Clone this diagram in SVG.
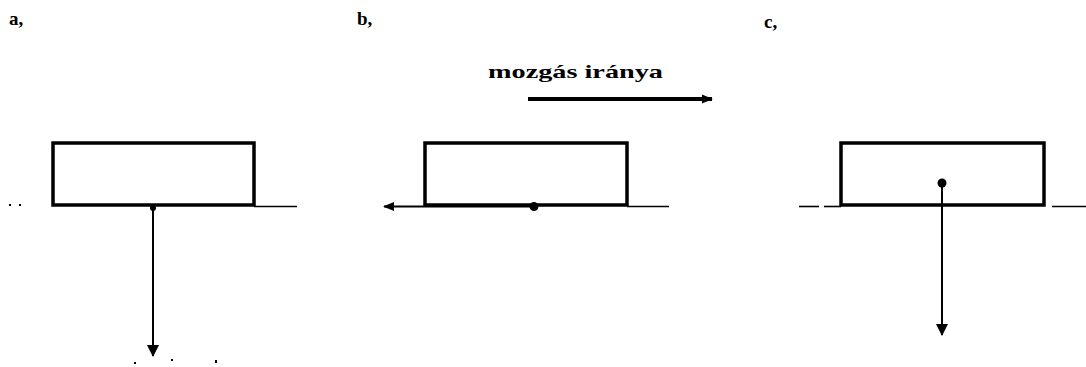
<svg xmlns="http://www.w3.org/2000/svg" width="1086" height="367" viewBox="0 0 1086 367">
<defs>
<style>
.lbl{font-family:'Liberation Serif','DejaVu Serif','Times New Roman',serif;font-weight:bold;fill:#000}
.box{fill:#fff;stroke:#000;stroke-width:3.5}
.ground{stroke:#000;stroke-width:1.6;fill:none}
.force{stroke:#000;stroke-width:2;fill:none}
.dot{fill:#000}
</style>
<marker id="ah" markerWidth="12" markerHeight="12" viewBox="0 0 12 12" refX="11" refY="6" orient="auto" markerUnits="userSpaceOnUse">
<path d="M0,0 L12,6 L0,12 z" fill="#000"/>
</marker>
<marker id="ahs" markerWidth="11" markerHeight="11" viewBox="0 0 12 12" refX="11" refY="6" orient="auto" markerUnits="userSpaceOnUse">
<path d="M0,1 L12,6 L0,11 z" fill="#000"/>
</marker>
</defs>
<rect width="1086" height="367" fill="#fff"/>

<g id="panel-a">
<text class="lbl" x="9" y="25" font-size="19">a,</text>
<g id="node-a">
<rect class="box" x="53" y="143" width="201" height="62"/>
</g>
<line class="ground" x1="254" y1="206.5" x2="297" y2="206.5"/>
<rect class="dot" x="9" y="204" width="2" height="2"/>
<rect class="dot" x="19" y="204" width="2" height="2"/>
<rect class="dot" x="134" y="362" width="2" height="2"/>
<rect class="dot" x="171" y="359" width="2" height="2"/>
<rect class="dot" x="215" y="360" width="2" height="3"/>
</g>

<g id="panel-b">
<text class="lbl" x="357" y="25" font-size="19">b,</text>
<text class="lbl" x="488" y="78" font-size="19" textLength="175" lengthAdjust="spacingAndGlyphs">mozgás iránya</text>
<g id="node-b">
<rect class="box" x="425" y="143" width="202" height="62"/>
</g>
<line class="ground" x1="627" y1="206.5" x2="669" y2="206.5"/>
</g>

<g id="panel-c">
<text class="lbl" x="764" y="28" font-size="19">c,</text>
<g id="node-c">
<rect class="box" x="841" y="143" width="203" height="62"/>
</g>
<line class="ground" x1="799" y1="206.5" x2="819" y2="206.5"/>
<line class="ground" x1="824" y1="206.5" x2="841" y2="206.5"/>
<line class="ground" x1="1052" y1="206.5" x2="1086" y2="206.5"/>
</g>

<g id="connectors">
<circle class="dot" cx="153" cy="208" r="3"/>
<line class="force" x1="153" y1="208" x2="153" y2="356" marker-end="url(#ah)"/>
<line class="force" x1="534" y1="206.5" x2="384" y2="206.5" marker-end="url(#ahs)"/>
<circle class="dot" cx="534" cy="206.5" r="4.5"/>
<line x1="528" y1="99" x2="712" y2="99" stroke="#000" stroke-width="4" marker-end="url(#ahs)"/>
<circle class="dot" cx="942" cy="183" r="4.5"/>
<line class="force" x1="942" y1="183" x2="942" y2="335" marker-end="url(#ah)"/>
</g>
</svg>
